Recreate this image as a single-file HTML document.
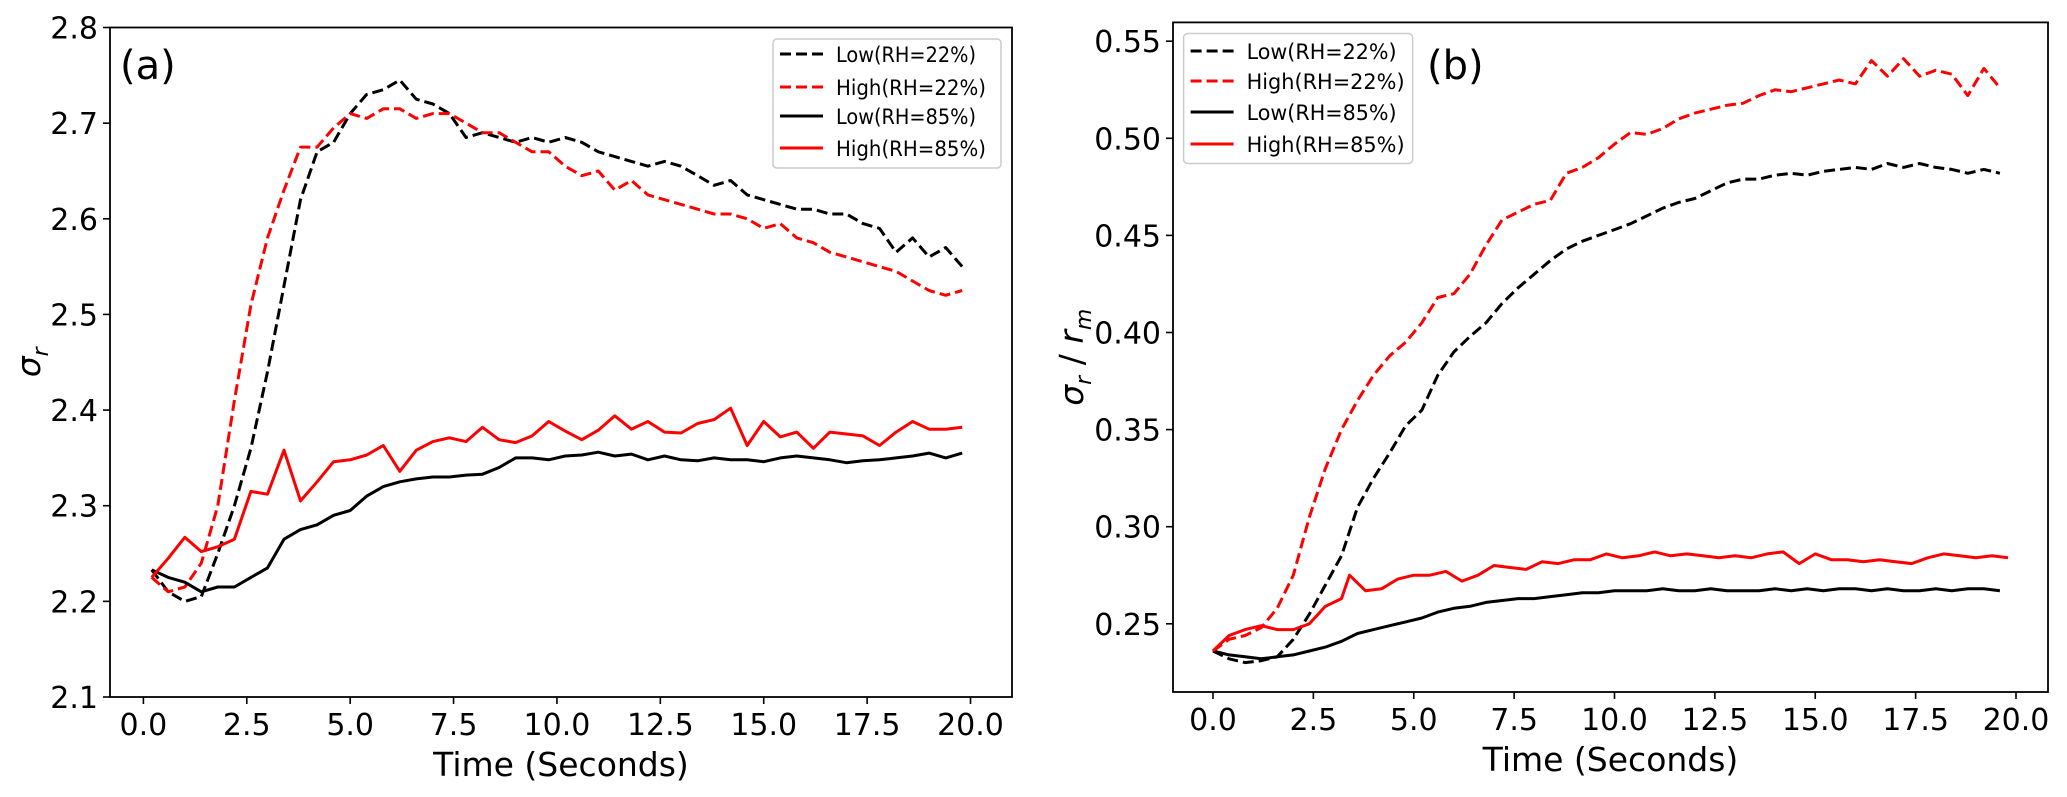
<!DOCTYPE html>
<html><head><meta charset="utf-8"><style>
body{margin:0;background:#fff;}
svg{display:block;font-family:"DejaVu Sans","Liberation Sans",sans-serif;}
</style></head><body>
<svg id="chart" width="2067" height="797" viewBox="0 0 2067 797" xmlns="http://www.w3.org/2000/svg"></svg>
<script>
// ---- Panel (a) data ----
const aLow22X=[0.2,0.6,1.0,1.4,1.8,2.2,2.6,3.0,3.4,3.8,4.2,4.6,5.0,5.4,5.8,6.2,6.6,7.0,7.4,7.8,8.2,8.6,9.0,9.4,9.8,10.2,10.6,11.0,11.4,11.8,12.2,12.6,13.0,13.4,13.8,14.2,14.6,15.0,15.4,15.8,16.2,16.6,17.0,17.4,17.8,18.2,18.6,19.0,19.4,19.8];
const aLow22Y=[2.233,2.21,2.20,2.205,2.25,2.30,2.36,2.44,2.53,2.62,2.67,2.68,2.71,2.73,2.735,2.745,2.725,2.72,2.71,2.685,2.69,2.685,2.68,2.685,2.68,2.685,2.68,2.67,2.665,2.66,2.655,2.66,2.655,2.645,2.635,2.64,2.625,2.62,2.615,2.61,2.61,2.605,2.605,2.595,2.59,2.565,2.58,2.56,2.57,2.55];
const aHigh22Y=[2.225,2.21,2.215,2.24,2.30,2.41,2.51,2.58,2.63,2.675,2.675,2.695,2.71,2.705,2.715,2.715,2.705,2.71,2.71,2.70,2.69,2.69,2.68,2.67,2.67,2.655,2.645,2.65,2.63,2.64,2.625,2.62,2.615,2.61,2.605,2.605,2.60,2.59,2.595,2.58,2.575,2.565,2.56,2.555,2.55,2.545,2.535,2.525,2.52,2.525];
const aLow85Y=[2.233,2.225,2.22,2.21,2.215,2.215,2.225,2.235,2.265,2.275,2.28,2.29,2.295,2.31,2.32,2.325,2.328,2.33,2.33,2.332,2.333,2.34,2.35,2.35,2.348,2.352,2.353,2.356,2.352,2.354,2.348,2.352,2.348,2.347,2.35,2.348,2.348,2.346,2.35,2.352,2.35,2.348,2.345,2.347,2.348,2.35,2.352,2.355,2.35,2.355];
const aHigh85Y=[2.225,2.245,2.267,2.252,2.257,2.265,2.315,2.312,2.358,2.305,2.325,2.346,2.348,2.353,2.363,2.336,2.358,2.367,2.371,2.367,2.382,2.369,2.366,2.373,2.388,2.378,2.369,2.379,2.394,2.38,2.388,2.377,2.376,2.386,2.39,2.402,2.363,2.388,2.372,2.377,2.36,2.377,2.375,2.373,2.363,2.377,2.388,2.38,2.38,2.382];
const aYTicks=[2.1,2.2,2.3,2.4,2.5,2.6,2.7,2.8];
const xTicks=[0,2.5,5,7.5,10,12.5,15,17.5,20];
// ---- Panel (b) data ----
const bX=[0,0.4,0.8,1.2,1.6,2.0,2.4,2.8,3.2,3.6,4.0,4.4,4.8,5.2,5.6,6.0,6.4,6.8,7.2,7.6,8.0,8.4,8.8,9.2,9.6,10.0,10.4,10.8,11.2,11.6,12.0,12.4,12.8,13.2,13.6,14.0,14.4,14.8,15.2,15.6,16.0,16.4,16.8,17.2,17.6,18.0,18.4,18.8,19.2,19.6];
const bLow22Y=[0.236,0.232,0.23,0.231,0.233,0.242,0.255,0.27,0.285,0.31,0.325,0.338,0.352,0.36,0.378,0.39,0.398,0.405,0.415,0.423,0.43,0.437,0.443,0.447,0.45,0.453,0.456,0.46,0.464,0.467,0.469,0.473,0.477,0.479,0.479,0.481,0.482,0.481,0.483,0.484,0.485,0.484,0.487,0.485,0.487,0.485,0.484,0.482,0.484,0.482];
const bHigh22Y=[0.236,0.242,0.244,0.248,0.258,0.275,0.305,0.33,0.35,0.365,0.378,0.388,0.395,0.405,0.418,0.42,0.43,0.445,0.458,0.462,0.466,0.468,0.482,0.485,0.49,0.497,0.503,0.502,0.505,0.51,0.513,0.515,0.517,0.518,0.522,0.525,0.524,0.526,0.528,0.53,0.528,0.54,0.532,0.541,0.532,0.535,0.533,0.522,0.536,0.526];
const bLow85Y=[0.236,0.234,0.233,0.232,0.233,0.234,0.236,0.238,0.241,0.245,0.247,0.249,0.251,0.253,0.256,0.258,0.259,0.261,0.262,0.263,0.263,0.264,0.265,0.266,0.266,0.267,0.267,0.267,0.268,0.267,0.267,0.268,0.267,0.267,0.267,0.268,0.267,0.268,0.267,0.268,0.268,0.267,0.268,0.267,0.267,0.268,0.267,0.268,0.268,0.267];
const bHigh85X=[0,0.4,0.8,1.2,1.6,2.0,2.4,2.8,3.2,3.4,3.8,4.2,4.6,5.0,5.4,5.8,6.2,6.6,7.0,7.4,7.8,8.2,8.6,9.0,9.4,9.8,10.2,10.6,11.0,11.4,11.8,12.2,12.6,13.0,13.4,13.8,14.2,14.6,15.0,15.4,15.8,16.2,16.6,17.0,17.4,17.8,18.2,18.6,19.0,19.4,19.8];
const bHigh85Y=[0.236,0.244,0.247,0.249,0.247,0.247,0.25,0.259,0.263,0.275,0.267,0.268,0.273,0.275,0.275,0.277,0.272,0.275,0.28,0.279,0.278,0.282,0.281,0.283,0.283,0.286,0.284,0.285,0.287,0.285,0.286,0.285,0.284,0.285,0.284,0.286,0.287,0.281,0.286,0.283,0.283,0.282,0.283,0.282,0.281,0.284,0.286,0.285,0.284,0.285,0.284];
const bYTicks=[0.25,0.30,0.35,0.40,0.45,0.50,0.55];
const legendLabels=["Low(RH=22%)","High(RH=22%)","Low(RH=85%)","High(RH=85%)"];

const NS="http://www.w3.org/2000/svg";
const svg=document.getElementById('chart');
function mk(tag,attrs,parent,text){const e=document.createElementNS(NS,tag);for(const k in attrs)e.setAttribute(k,attrs[k]);if(text!==undefined)e.textContent=text;(parent||svg).appendChild(e);return e;}

function panel(cfg){
  const g=mk('g',{});
  
  
  const sx=v=>cfg.x0px+(v-0)*(cfg.x20px-cfg.x0px)/20;
  const sy=v=>cfg.yLoPx+(v-cfg.yLo)*(cfg.yHiPx-cfg.yLoPx)/(cfg.yHi-cfg.yLo);
  cfg.yTicks.forEach(t=>{
    const y=sy(t);
    const l=mk('line',{x1:cfg.L-7,x2:cfg.L,y1:y,y2:y,stroke:'#000','stroke-width':1.6},g);
    
    
    const tx=mk('text',{x:cfg.L-12,y:y+11,'text-anchor':'end','font-size':30},g,t.toFixed(cfg.dec));
    
    
  });
  xTicks.forEach(t=>{
    const x=sx(t);
    const l=mk('line',{x1:x,x2:x,y1:cfg.B,y2:cfg.B+7,stroke:'#000','stroke-width':1.6},g);
    
    
    const tx=mk('text',{x:x,y:cfg.B+38,'text-anchor':'middle','font-size':30},g,t.toFixed(1));
    
    
  });
  cfg.series.forEach(s=>{
    const d=s.x.map((v,i)=>(i?'L':'M')+sx(v).toFixed(1)+','+sy(s.y[i]).toFixed(1)).join('');
    const p=mk('path',{d:d,fill:'none',stroke:s.c,'stroke-width':3,'stroke-linejoin':'round','stroke-dasharray':s.dash?'11,5':'none'},g);
    
    
  });
  const fr=mk('rect',{x:cfg.L,y:cfg.T,width:cfg.R-cfg.L,height:cfg.B-cfg.T,fill:'none',stroke:'#000','stroke-width':1.8},g);
  
  
  const lg=mk('g',{},g);
  
  
  const lb=mk('rect',{x:cfg.lx,y:cfg.ly,width:cfg.lw,height:cfg.lh,rx:4,fill:'#fff',stroke:'#ccc','stroke-width':1.5},lg);
  
  
  cfg.series.forEach((s,i)=>{
    const y=cfg.ly+cfg.rows[i];
    const ln=mk('line',{x1:cfg.lx+7,x2:cfg.lx+50,y1:y,y2:y,stroke:s.c,'stroke-width':3,'stroke-dasharray':s.dash?'11,5':'none'},lg);
    
    
    const t=mk('text',{x:cfg.lx+63,y:y+8,'font-size':21,textLength:cfg.tl[i],lengthAdjust:'spacingAndGlyphs'},lg,legendLabels[i]);
    
    
  });
  const pl=mk('text',{x:cfg.plx,y:cfg.ply,'font-size':40},g,cfg.plabel);
  
  
  const xl=mk('text',{x:(cfg.L+cfg.R)/2,y:cfg.B+79,'text-anchor':'middle','font-size':33},g,'Time (Seconds)');
  
  
  const yl=mk('text',{transform:`translate(${cfg.ylx},${(cfg.T+cfg.B)/2}) rotate(-90)`,'text-anchor':'middle','font-size':33,'font-style':'italic'},g);
  
  
  yl.innerHTML=cfg.ylab;
}

panel({name:'panel-a',L:110,R:1012,T:27.5,B:697,x0px:143.4,x20px:970.5,yLo:2.1,yHi:2.8,yLoPx:697,yHiPx:27.5,dec:1,yTicks:aYTicks,
  series:[{n:'line-low-rh22',x:aLow22X,y:aLow22Y,c:'#000',dash:true},{n:'line-high-rh22',x:aLow22X,y:aHigh22Y,c:'#f00',dash:true},
          {n:'line-low-rh85',x:aLow22X,y:aLow85Y,c:'#000',dash:false},{n:'line-high-rh85',x:aLow22X,y:aHigh85Y,c:'#f00',dash:false}],
  lx:773,ly:39,lw:228,lh:129,rows:[15,48,77,109],tl:[140,150,140,150],plabel:'(a)',plx:120,ply:79,ylx:40,
  ylab:'σ<tspan font-size="22" dy="8" font-style="italic">r</tspan>'});
panel({name:'panel-b',L:1173,R:2048,T:22.4,B:692,x0px:1213,x20px:2016,yLo:0.25,yHi:0.55,yLoPx:623.8,yHiPx:41.2,dec:2,yTicks:bYTicks,
  series:[{n:'line-low-rh22',x:bX,y:bLow22Y,c:'#000',dash:true},{n:'line-high-rh22',x:bX,y:bHigh22Y,c:'#f00',dash:true},
          {n:'line-low-rh85',x:bX,y:bLow85Y,c:'#000',dash:false},{n:'line-high-rh85',x:bHigh85X,y:bHigh85Y,c:'#f00',dash:false}],
  lx:1183.6,ly:33.5,lw:229,lh:130,rows:[17.5,47.5,78.5,110.5],tl:[150,158,150,158],plabel:'(b)',plx:1427,ply:79,ylx:1083,
  ylab:'σ<tspan font-size="22" dy="8">r</tspan><tspan dy="-8" font-style="normal"> / </tspan>r<tspan font-size="22" dy="8">m</tspan>'});
</script>
</body></html>
